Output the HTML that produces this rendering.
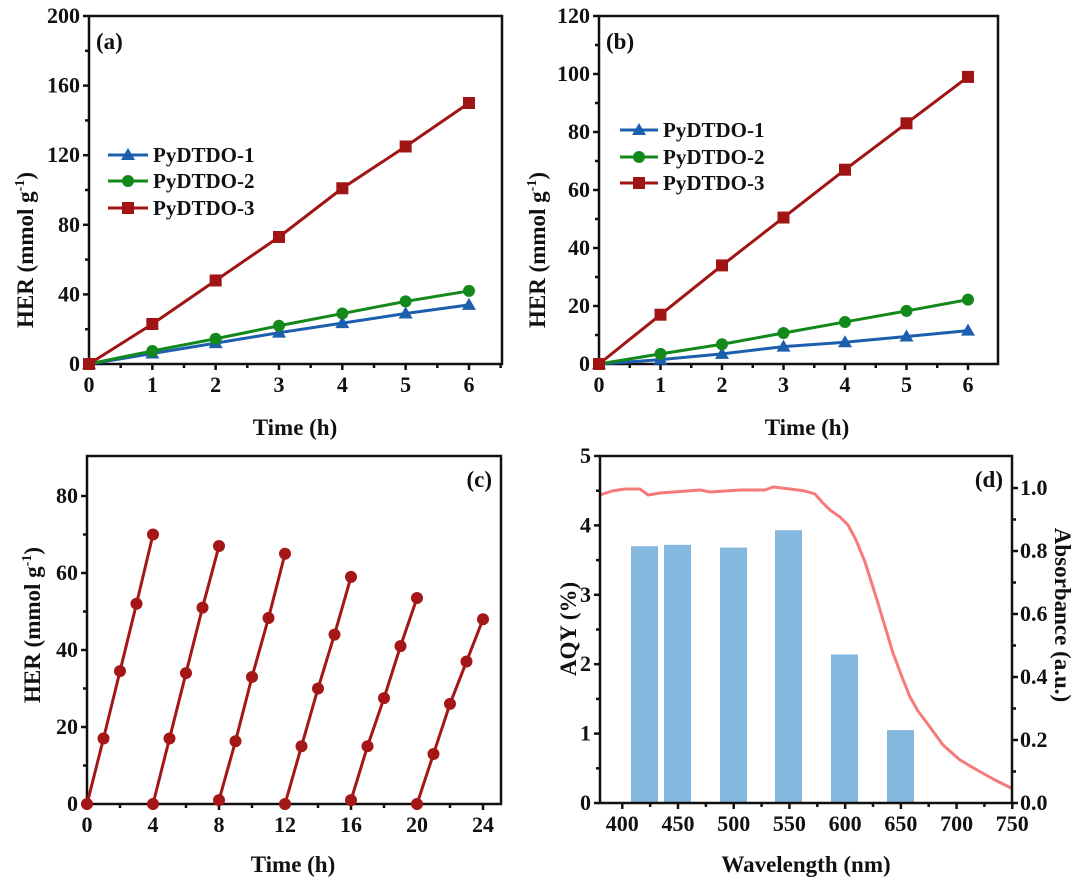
<!DOCTYPE html><html><head><meta charset="utf-8"><style>body{margin:0;background:#fff}svg{display:block}text{font-family:"Liberation Serif",serif;font-weight:bold;fill:#111}</style></head><body>
<svg id="s" width="1080" height="880" xmlns="http://www.w3.org/2000/svg"></svg>
<script>
const s=document.getElementById('s');let h='';
function ln(x1,y1,x2,y2,c,w){h+=`<line x1="${x1}" y1="${y1}" x2="${x2}" y2="${y2}" stroke="${c}" stroke-width="${w}"/>`}
function tx(x,y,t,sz,anc,rot){h+=`<text x="${x}" y="${y}" font-size="${sz}" text-anchor="${anc||'middle'}"${rot?` transform="rotate(-90 ${x} ${y})"`:''}>${t}</text>`}
function mk(x,y,type,c){if(type=='s')h+=`<rect x="${x-6}" y="${y-6}" width="12" height="12" fill="${c}"/>`;else if(type=='c')h+=`<circle cx="${x}" cy="${y}" r="6" fill="${c}"/>`;else h+=`<polygon points="${x},${y-7} ${x-7},${y+5} ${x+7},${y+5}" fill="${c}"/>`}
function axes(L,R,T,B,xt,yt,xminor,yminor){
 h+=`<rect x="${L}" y="${T}" width="${R-L}" height="${B-T}" fill="none" stroke="#111" stroke-width="2.5"/>`;
 xt.forEach(([p,l])=>{ln(p,B,p,B+6,'#111',2.5);tx(p,B+28,l,22)});
 (xminor||[]).forEach(p=>ln(p,B,p,B+4,'#111',2.5));
 yt.forEach(([p,l])=>{ln(L-6,p,L,p,'#111',2.5);tx(L-9,p+7,l,22,'end')});
 (yminor||[]).forEach(p=>ln(L-4,p,L,p,'#111',2.5));
}
function series(X,Y,xs,ys,c,m){let pts=xs.map((x,i)=>X(x)+','+Y(ys[i])).join(' ');h+=`<polyline points="${pts}" fill="none" stroke="${c}" stroke-width="3"/>`;xs.forEach((x,i)=>mk(X(x),Y(ys[i]),m,c))}
const B='#1c5fae',G='#13881b',Rd='#a01414';
const HER='HER (mmol g<tspan dy="-9" font-size="14">-1</tspan><tspan dy="9">)</tspan>';
// (a)
{let X=x=>89+x*63.33,Y=y=>364-y*1.74;
axes(89,502,16,364,[0,1,2,3,4,5,6].map(i=>[X(i),i]),[0,40,80,120,160,200].map(v=>[Y(v),v]),[0.5,1.5,2.5,3.5,4.5,5.5,6.5].map(X),[20,60,100,140,180].map(Y));
const t=[0,1,2,3,4,5,6];
series(X,Y,t,[0,6,12,18,23.5,29,34],B,'t');series(X,Y,t,[0,7.5,14.5,22,29,36,42],G,'c');series(X,Y,t,[0,23,48,73,101,125,150],Rd,'s');
tx(96,49,'(a)',23,'start');
[[155,B,'t','PyDTDO-1'],[181,G,'c','PyDTDO-2'],[208,Rd,'s','PyDTDO-3']].forEach(([y,c,m,l])=>{ln(108,y,148,y,c,3);mk(128,y,m,c);tx(153,y+7,l,21,'start')});
tx(295,435,'Time (h)',23);tx(33,250,HER,23,'middle',1);}
// (b)
{let X=x=>599+x*61.5,Y=y=>364-y*2.9;
axes(599,998,16,364,[0,1,2,3,4,5,6].map(i=>[X(i),i]),[0,20,40,60,80,100,120].map(v=>[Y(v),v]),[0.5,1.5,2.5,3.5,4.5,5.5].map(X),[10,30,50,70,90,110].map(Y));
const t=[0,1,2,3,4,5,6];
series(X,Y,t,[0,1.5,3.5,6,7.5,9.5,11.5],B,'t');series(X,Y,t,[0,3.5,6.8,10.7,14.5,18.3,22.2],G,'c');series(X,Y,t,[0,17,34,50.5,67,83,99],Rd,'s');
tx(606,49,'(b)',23,'start');
[[130,B,'t','PyDTDO-1'],[157,G,'c','PyDTDO-2'],[183,Rd,'s','PyDTDO-3']].forEach(([y,c,m,l])=>{ln(620,y,658,y,c,3);mk(639,y,m,c);tx(663,y+7,l,21,'start')});
tx(807,435,'Time (h)',23);tx(545,250,HER,23,'middle',1);}
// (c)
{let X=x=>87+x*16.5,Y=y=>804-y*3.85;
axes(87,501,456,804,[0,4,8,12,16,20,24].map(i=>[X(i),i]),[0,20,40,60,80].map(v=>[Y(v),v]),[2,6,10,14,18,22].map(X),[10,30,50,70].map(Y));
const d=[[0,17,34.5,52,70],[0,17,34,51,67],[1,16.3,33,48.3,65],[0,15,30,44,59],[1,15,27.5,41,53.5],[0,13,26,37,48]];
d.forEach((ys,k)=>series(X,Y,[0,1,2,3,4].map(i=>k*4+i),ys,'#a51616','c'));
tx(492,487,'(c)',23,'end');
tx(293,872,'Time (h)',23);tx(40,625,HER,23,'middle',1);}
// (d)
{let X=w=>600+(w-380)*1.1143,Y=y=>803-y*69.4,A=a=>803-a*315;
[[631,3.7],[664,3.72],[720,3.68],[775,3.93],[831,2.14],[887,1.05]].forEach(([x,v])=>h+=`<rect x="${x}" y="${Y(v)}" width="27" height="${803-Y(v)}" fill="#84b8df"/>`);
h+=`<polyline fill="none" stroke="#f77a7a" stroke-width="3" stroke-linejoin="round" points="600,495 612,491 625,489 640,489 648,495 660,493 700,490 710,492 740,490 765,490 773,487 790,489 805,491 815,494 822,502 830,510 840,517 848,525 856,540 865,562 877,600 893,653 902,677 910,697 918,711 927,723 943,745 960,760 977,770 995,780 1011,788"/>`;
axes(600,1012,456,803,[400,450,500,550,600,650,700,750].map(w=>[X(w),w]),[0,1,2,3,4,5].map(v=>[Y(v),v]),[425,475,525,575,625,675,725].map(X),[0.5,1.5,2.5,3.5,4.5].map(Y));
[0,0.2,0.4,0.6,0.8,1.0].forEach(a=>{ln(1012,A(a),1018,A(a),'#111',2.5);tx(1020,A(a)+7,a.toFixed(1),22,'start')});
[0.1,0.3,0.5,0.7,0.9].forEach(a=>ln(1012,A(a),1016,A(a),'#111',2.5));
tx(1003,487,'(d)',23,'end');
tx(806,872,'Wavelength (nm)',23);tx(576,629,'AQY (%)',23,'middle',1);
h+=`<text x="1055" y="615" font-size="23" text-anchor="middle" transform="rotate(90 1055 615)">Absorbance (a.u.)</text>`;}
s.innerHTML=h;
</script></body></html>
